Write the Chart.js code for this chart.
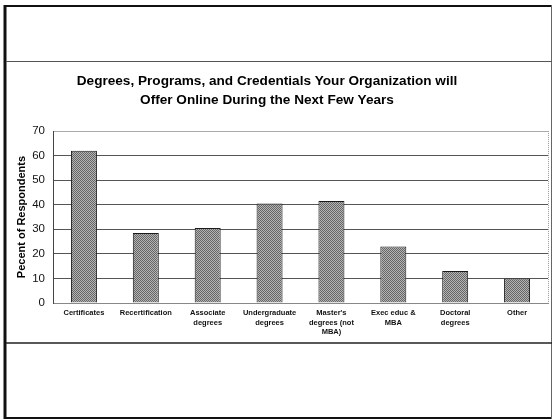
<!DOCTYPE html>
<html><head><meta charset="utf-8">
<script src="https://cdn.jsdelivr.net/npm/chart.js@4"></script>
<style>html,body{margin:0;padding:0;background:#fff}#wrap{width:553px;height:420px}</style>
</head><body><div id="wrap"><canvas id="c" width="553" height="420"></canvas></div>
<script>
const categories = [["Certificates"],["Recertification"],["Associate","degrees"],["Undergraduate","degrees"],["Master's","degrees (not","MBA)"],["Exec educ &","MBA"],["Doctoral","degrees"],["Other"]];
const percentRespondents = [62, 28.5, 30.5, 40.5, 41.5, 23, 13, 10];
const yTicks = [0, 10, 20, 30, 40, 50, 60, 70];
const titleLines = ["Degrees, Programs, and Credentials Your Organization will", "Offer Online During the Next Few Years"];
const yAxisTitle = "Pecent of Respondents";

const FONT = '"Liberation Sans", Arial, Helvetica, sans-serif';

function makePattern() {
  const p = document.createElement('canvas');
  p.width = 2; p.height = 2;
  const g = p.getContext('2d');
  const vals = [[0x66,0xb4],[0xb4,0x66]];
  for (let y = 0; y < 2; y++) for (let x = 0; x < 2; x++) {
    const v = vals[y][x];
    g.fillStyle = `rgb(${v},${v},${v})`;
    g.fillRect(x, y, 1, 1);
  }
  return document.getElementById('c').getContext('2d').createPattern(p, 'repeat');
}

const framePlugin = {
  id: 'frame',
  beforeDraw(chart) {
    const ctx = chart.ctx;
    ctx.save();
    ctx.fillStyle = '#fff';
    ctx.fillRect(0, 0, chart.width, chart.height);
    ctx.restore();
  },
  afterLayout(chart) {
    if (chart.titleBlock) { chart.titleBlock.left -= 7; chart.titleBlock.right -= 7; }
  },
  afterDraw(chart) {
    const ctx = chart.ctx;
    const a = chart.chartArea;
    ctx.save();
    ctx.strokeStyle = '#999';
    ctx.lineWidth = 1;
    ctx.setLineDash([1, 1]);
    ctx.beginPath();
    ctx.moveTo(Math.round(a.right) + 0.5, a.top);
    ctx.lineTo(Math.round(a.right) + 0.5, a.bottom);
    ctx.stroke();
    ctx.setLineDash([]);
    ctx.strokeStyle = '#111';
    ctx.lineWidth = 2;
    ctx.beginPath(); ctx.moveTo(4, 6); ctx.lineTo(552, 6); ctx.stroke();
    ctx.beginPath(); ctx.moveTo(4, 418); ctx.lineTo(552, 418); ctx.stroke();
    ctx.lineWidth = 3;
    ctx.beginPath(); ctx.moveTo(5, 5); ctx.lineTo(5, 419); ctx.stroke();
    ctx.lineWidth = 1;
    ctx.strokeStyle = '#666';
    ctx.beginPath(); ctx.moveTo(551.5, 5); ctx.lineTo(551.5, 419); ctx.stroke();
    ctx.strokeStyle = '#555';
    ctx.lineWidth = 1;
    ctx.beginPath(); ctx.moveTo(6, 61.5); ctx.lineTo(552, 61.5); ctx.stroke();
    ctx.strokeStyle = '#222';
    ctx.lineWidth = 1.5;
    ctx.beginPath(); ctx.moveTo(6, 343); ctx.lineTo(552, 343); ctx.stroke();
    ctx.restore();
  }
};

const chart = new Chart(document.getElementById('c'), {
  type: 'bar',
  data: {
    labels: categories,
    datasets: [{
      data: percentRespondents,
      backgroundColor: makePattern(),
      borderColor: '#1a1a1a',
      borderWidth: 1,
      barPercentage: 0.42,
      categoryPercentage: 1.0
    }]
  },
  options: {
    responsive: false,
    animation: false,
    devicePixelRatio: 1,
    layout: { padding: { left: 0, right: 5, top: 0, bottom: 0 } },
    plugins: {
      legend: { display: false },
      tooltip: { enabled: false },
      title: {
        display: true,
        text: titleLines,
        color: '#000',
        font: { family: FONT, size: 13.6, weight: 'bold', lineHeight: 1.4 },
        padding: { top: 72, bottom: 21 }
      }
    },
    scales: {
      x: {
        grid: { display: false, drawTicks: false },
        border: { display: true, color: '#888', width: 1 },
        ticks: {
          color: '#111',
          font: { family: FONT, size: 7.5, weight: 'bold', lineHeight: 1.3 },
          padding: 5,
          maxRotation: 0,
          minRotation: 0,
          autoSkip: false
        },
        afterFit(s) { s.height = 117; }
      },
      y: {
        min: 0,
        max: 70,
        afterBuildTicks(s) { s.ticks = yTicks.map(v => ({ value: v })); },
        grid: {
          drawTicks: false,
          color: ctx => (ctx.tick && ctx.tick.value === 70) ? '#aaa' : '#555',
          lineWidth: 1
        },
        border: { display: true, color: '#444', width: 1 },
        ticks: {
          color: '#111',
          font: { family: FONT, size: 11.5 },
          padding: 8
        },
        title: {
          display: true,
          text: yAxisTitle,
          color: '#000',
          font: { family: FONT, size: 11, weight: 'bold' },
          padding: { top: 15, bottom: 0 }
        },
        afterFit(s) { s.width = 53; }
      }
    }
  },
  plugins: [framePlugin]
});
</script>
</body></html>
